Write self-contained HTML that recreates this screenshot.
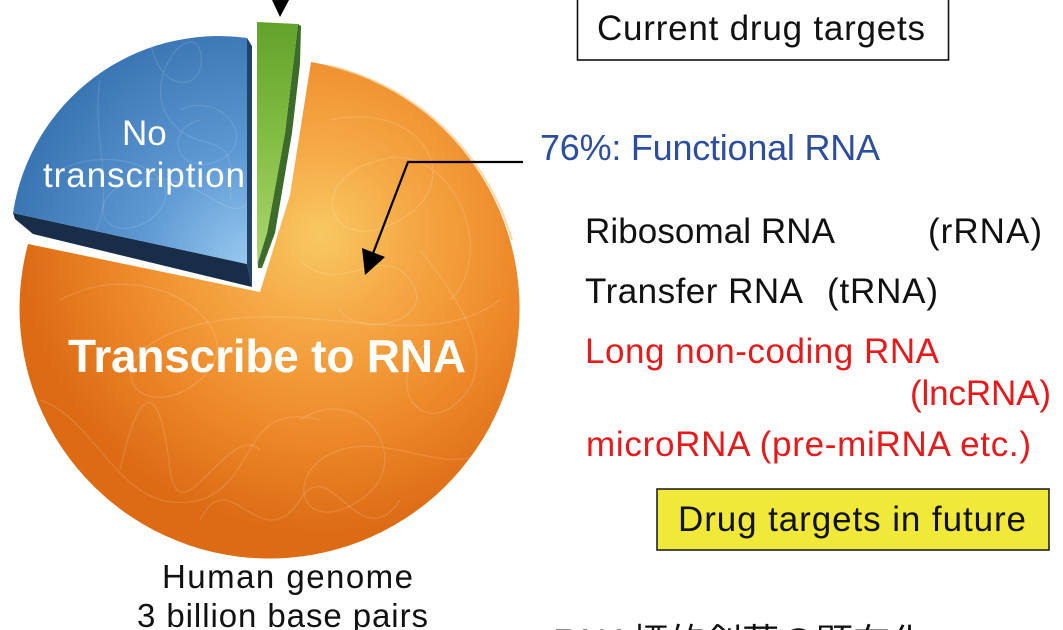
<!DOCTYPE html>
<html>
<head>
<meta charset="utf-8">
<style>
html,body{margin:0;padding:0;background:#fff;}
body{width:1063px;height:630px;overflow:hidden;}
svg{display:block;}
text{font-family:"Liberation Sans","Noto Sans CJK JP",sans-serif;}
</style>
</head>
<body>
<svg width="1063" height="630" viewBox="0 0 1063 630" xmlns="http://www.w3.org/2000/svg">
  <defs>
    <radialGradient id="og" cx="320" cy="235" r="300" gradientUnits="userSpaceOnUse">
      <stop offset="0" stop-color="#f8c862"/>
      <stop offset="0.3" stop-color="#f5a945"/>
      <stop offset="0.65" stop-color="#ee8a2b"/>
      <stop offset="1" stop-color="#dc6b14"/>
    </radialGradient>
    <radialGradient id="bg" cx="250" cy="262" r="270" gradientUnits="userSpaceOnUse">
      <stop offset="0" stop-color="#98c9ef"/>
      <stop offset="0.4" stop-color="#5e99d3"/>
      <stop offset="1" stop-color="#336ead"/>
    </radialGradient>
    <linearGradient id="gg" x1="0" y1="22" x2="0" y2="262" gradientUnits="userSpaceOnUse">
      <stop offset="0" stop-color="#62a22b"/>
      <stop offset="0.5" stop-color="#84be45"/>
      <stop offset="1" stop-color="#aad66f"/>
    </linearGradient>
    <clipPath id="oc"><path d="M 260 292 L 290 195 L 311 62 A 250 250 0 1 1 28 244 Z"/></clipPath>
    <clipPath id="bc"><path d="M 247 38 A 208 208 0 0 0 13 213 L 247 264 Z"/></clipPath>
  </defs>

  <!-- Orange slice -->
  <path d="M 260 292 L 290 195 L 311 62 A 250 250 0 1 1 28 244 Z" fill="url(#og)"/>
  <g clip-path="url(#oc)" fill="none" stroke="#ffffff" stroke-opacity="0.14" stroke-width="1.3">
    <path d="M 60 300 C 150 250, 260 330, 200 380 C 140 430, 90 360, 180 330 C 300 290, 420 360, 500 300"/>
    <path d="M 120 470 C 140 380, 160 380, 170 470 C 180 540, 230 420, 260 450"/>
    <path d="M 330 120 C 420 100, 470 180, 400 220 C 330 260, 300 180, 380 160 C 450 140, 500 250, 450 300"/>
    <path d="M 300 420 C 360 380, 420 460, 360 500 C 300 540, 280 470, 340 450 C 400 430, 480 500, 500 420"/>
    <path d="M 40 400 C 100 420, 120 520, 200 500 C 260 480, 240 400, 320 420"/>
    <path d="M 420 250 C 460 300, 500 360, 460 400 C 420 440, 380 380, 430 340"/>
    <path d="M 200 520 C 230 460, 260 560, 300 500 C 330 450, 360 560, 400 500"/>
    <path d="M 300 260 C 340 300, 380 240, 410 280 C 440 320, 360 340, 340 310"/>
  </g>
  <path d="M 330 66 A 250 250 0 0 1 512 240" fill="none" stroke="#f9c070" stroke-width="2" stroke-opacity="0.6"/>

  <!-- Blue slice -->
  <polygon points="13,213 247,264 252,287 33,234 15,219" fill="#172d48"/>
  <polygon points="247,38 252,46 252,287 247,264" fill="#21436a"/>
  <path d="M 247 38 A 208 208 0 0 0 13 213 L 247 264 Z" fill="url(#bg)"/>
  <g clip-path="url(#bc)" fill="none" stroke="#ffffff" stroke-opacity="0.12" stroke-width="1.2">
    <path d="M 150 40 C 160 100, 210 90, 200 50 C 190 20, 140 80, 170 120 C 200 160, 240 120, 230 200"/>
    <path d="M 60 170 C 120 140, 200 180, 150 220 C 100 250, 80 190, 140 180 C 200 170, 230 230, 250 200"/>
    <path d="M 100 80 C 90 140, 120 200, 90 240"/>
    <path d="M 180 110 C 220 90, 260 140, 220 160 C 180 180, 160 130, 200 120"/>
  </g>

  <!-- Green slice -->
  <polygon points="298,24 301,26 300,64 292,133 275,233 262,268 258,262 267,233 285,133" fill="#3d6b2a"/>
  <polygon points="257,22 298,24 285,133 267,233 258,262 257,248" fill="url(#gg)"/>
  <polygon points="257,248 258,262 262,268 258,268" fill="#3d6b2a"/>

  <!-- Top arrowhead -->
  <polygon points="272,0 289,0 280,17" fill="#000"/>

  <!-- Arrow into orange -->
  <polyline points="523,162 408,162 372,256" fill="none" stroke="#000" stroke-width="2.2"/>
  <polygon points="365,275 362,248 385,257" fill="#000"/>

  <!-- Pie labels -->
  <text x="122" y="145" font-size="35" fill="#fff">No</text>
  <text x="43" y="187" font-size="35" fill="#fff" textLength="202">transcription</text>
  <text x="68" y="372" font-size="46" font-weight="bold" fill="#fff" textLength="398">Transcribe to RNA</text>

  <text x="162" y="588" font-size="33" fill="#111" textLength="251">Human genome</text>
  <text x="137" y="627" font-size="33" fill="#111" textLength="291">3 billion base pairs</text>

  <!-- Right side -->
  <rect x="577.5" y="-5" width="371" height="65" fill="none" stroke="#111" stroke-width="1.6"/>
  <text x="597" y="40" font-size="35" fill="#111" textLength="328">Current drug targets</text>

  <text x="540" y="160" font-size="36" fill="#2d4e9e" textLength="340">76%: Functional RNA</text>

  <text x="585" y="243" font-size="35" fill="#111" textLength="250">Ribosomal RNA</text>
  <text x="928" y="243" font-size="35" fill="#111" textLength="114">(rRNA)</text>

  <text x="585" y="303" font-size="35" fill="#111" textLength="218">Transfer RNA</text>
  <text x="827" y="303" font-size="35" fill="#111" textLength="111">(tRNA)</text>

  <text x="585" y="363" font-size="35" fill="#e6191b" textLength="354">Long non-coding RNA</text>
  <text x="910" y="405" font-size="35" fill="#e6191b" textLength="141">(lncRNA)</text>
  <text x="586" y="456" font-size="35" fill="#e6191b" textLength="445">microRNA (pre-miRNA etc.)</text>

  <rect x="657" y="489" width="392" height="61" fill="#f0e93a" stroke="#222" stroke-width="1.6"/>
  <text x="678" y="531" font-size="35" fill="#111" textLength="348">Drug targets in future</text>

  <text x="553" y="655" font-size="37" fill="#111">RNA標的創薬の顕在化</text>
</svg>
</body>
</html>
